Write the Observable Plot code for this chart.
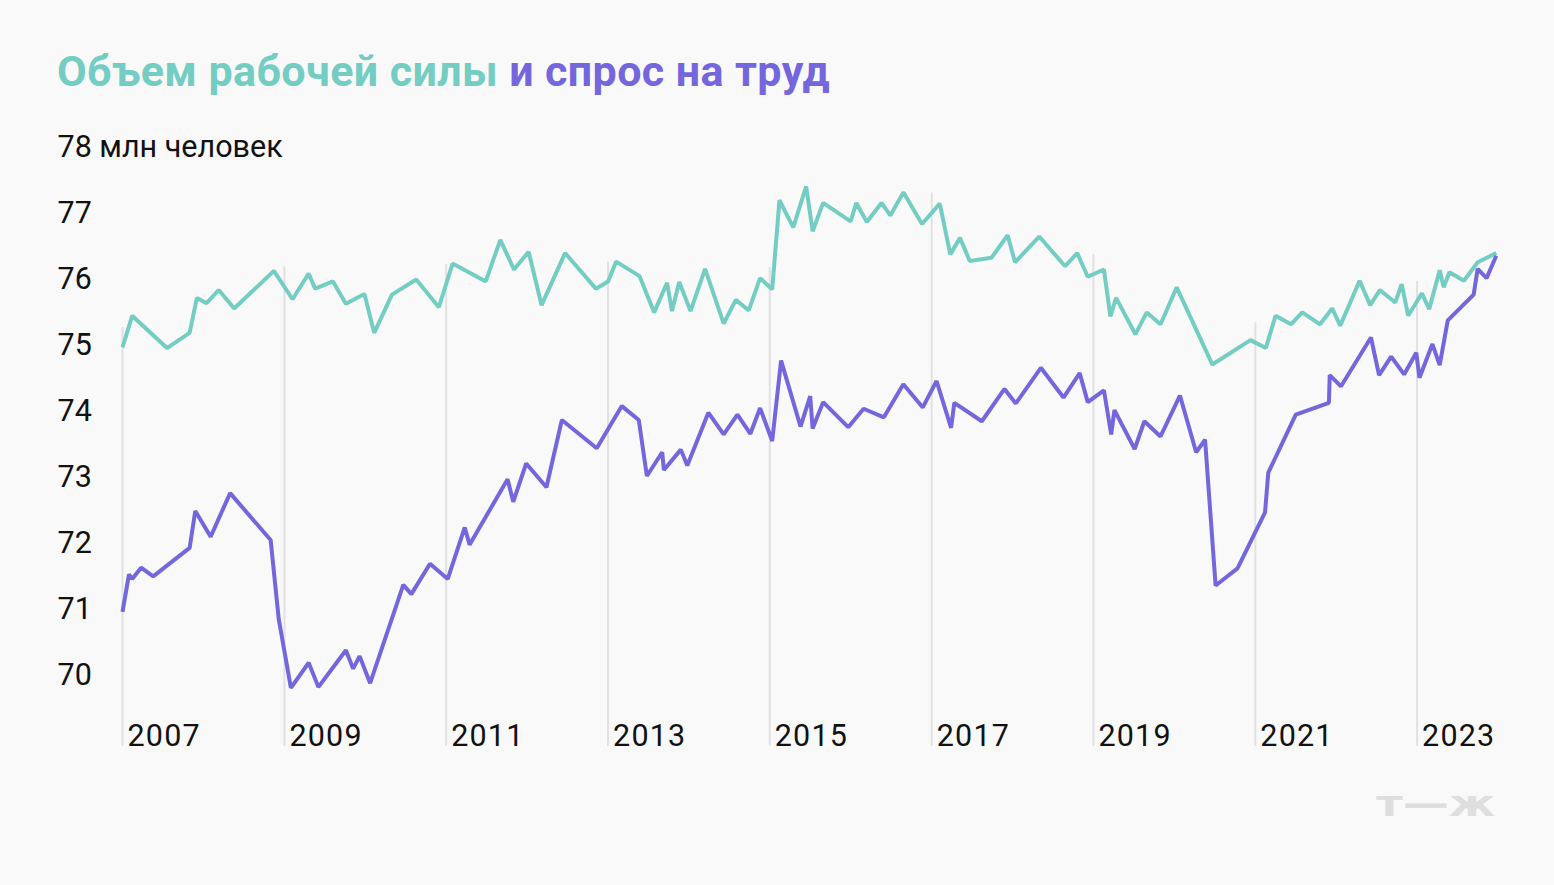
<!DOCTYPE html>
<html><head><meta charset="utf-8">
<script src="https://cdn.jsdelivr.net/npm/d3@7"></script>
<script src="https://cdn.jsdelivr.net/npm/@observablehq/plot@0.6"></script>
<style>
html,body{margin:0;padding:0;background:#f9f9f9;}
#wrap{position:relative;width:1554px;height:885px;overflow:hidden;background:#f9f9f9;font-family:Roboto,"Noto Sans",sans-serif;}
#title{position:absolute;left:57px;top:50px;font-size:43px;font-weight:700;line-height:1;white-space:nowrap;letter-spacing:0.4px;}
#chart{position:absolute;left:0;top:120px;}
#logo{position:absolute;left:1370px;top:784px;overflow:visible;}
</style></head>
<body><div id="wrap">
<div id="title"><span style="color:#74cdc3">Объем рабочей силы</span> <span style="color:#7466dc">и спрос на труд</span></div>
<div id="chart"></div>
<svg id="logo" width="140" height="44"><text x="6" y="32" textLength="119" lengthAdjust="spacingAndGlyphs" font-family="DejaVu Sans" font-weight="bold" font-size="36" fill="#dedede">т—ж</text></svg>
</div>
<script>
// Labour force (teal), decimal year and million people
const tealYear = [2007.00,2007.12,2007.55,2007.83,2007.92,2008.04,2008.19,2008.38,2008.87,2009.10,2009.30,2009.38,2009.60,2009.76,2009.99,2010.11,2010.33,2010.63,2010.91,2011.08,2011.49,2011.67,2011.84,2012.02,2012.18,2012.47,2012.85,2013.00,2013.10,2013.39,2013.57,2013.73,2013.79,2013.88,2014.02,2014.20,2014.43,2014.58,2014.74,2014.88,2015.03,2015.12,2015.29,2015.45,2015.53,2015.66,2016.00,2016.07,2016.20,2016.38,2016.49,2016.65,2016.88,2017.10,2017.23,2017.35,2017.47,2017.74,2017.94,2018.03,2018.33,2018.65,2018.80,2018.93,2019.13,2019.21,2019.28,2019.52,2019.66,2019.83,2020.03,2020.47,2020.94,2021.13,2021.25,2021.44,2021.58,2021.80,2021.95,2022.05,2022.29,2022.42,2022.54,2022.73,2022.81,2022.89,2023.06,2023.15,2023.28,2023.33,2023.40,2023.58,2023.75,2023.98];
const tealValue = [74.97,75.45,74.96,75.19,75.72,75.64,75.84,75.56,76.13,75.70,76.09,75.86,75.97,75.63,75.78,75.19,75.77,76.00,75.58,76.24,75.97,76.60,76.15,76.42,75.61,76.40,75.86,75.97,76.27,76.05,75.50,75.95,75.52,75.96,75.52,76.16,75.33,75.69,75.53,76.02,75.85,77.20,76.79,77.41,76.73,77.16,76.88,77.16,76.87,77.16,76.97,77.32,76.84,77.15,76.38,76.63,76.28,76.33,76.67,76.26,76.65,76.20,76.40,76.04,76.15,75.44,75.72,75.17,75.50,75.32,75.88,74.71,75.08,74.96,75.45,75.32,75.50,75.32,75.56,75.30,75.98,75.61,75.84,75.65,75.93,75.45,75.79,75.55,76.14,75.88,76.11,75.98,76.26,76.40];
// Labour demand (purple)
const purpleYear = [2007.00,2007.08,2007.12,2007.23,2007.38,2007.83,2007.90,2008.09,2008.33,2008.83,2008.93,2009.08,2009.30,2009.42,2009.76,2009.85,2009.93,2010.06,2010.47,2010.57,2010.80,2011.02,2011.23,2011.29,2011.76,2011.83,2011.99,2012.24,2012.43,2012.86,2013.17,2013.38,2013.48,2013.67,2013.69,2013.90,2013.98,2014.24,2014.43,2014.60,2014.76,2014.88,2015.03,2015.14,2015.38,2015.50,2015.53,2015.66,2015.97,2016.16,2016.41,2016.65,2016.89,2017.06,2017.24,2017.28,2017.62,2017.90,2018.04,2018.35,2018.63,2018.83,2018.93,2019.13,2019.22,2019.26,2019.51,2019.63,2019.83,2020.07,2020.27,2020.38,2020.51,2020.78,2021.12,2021.16,2021.50,2021.91,2021.92,2022.06,2022.43,2022.53,2022.68,2022.84,2022.99,2023.03,2023.19,2023.28,2023.38,2023.70,2023.75,2023.86,2023.98];
const purpleValue = [70.96,71.53,71.46,71.63,71.50,71.93,72.49,72.10,72.76,72.05,70.85,69.81,70.19,69.82,70.38,70.10,70.29,69.88,71.37,71.23,71.69,71.46,72.24,71.98,72.97,72.63,73.21,72.85,73.87,73.44,74.08,73.87,73.02,73.38,73.11,73.42,73.18,73.98,73.65,73.95,73.66,74.05,73.55,74.77,73.77,74.23,73.74,74.14,73.76,74.04,73.91,74.41,74.06,74.46,73.75,74.13,73.85,74.34,74.12,74.66,74.21,74.58,74.14,74.32,73.65,74.02,73.43,73.85,73.62,74.24,73.38,73.57,71.36,71.62,72.47,73.07,73.95,74.13,74.55,74.38,75.12,74.55,74.83,74.56,74.89,74.51,75.02,74.70,75.38,75.77,76.16,76.02,76.36];
const yTicks = [70, 71, 72, 73, 74, 75, 76, 77, 78];
const yUnit = "млн человек";
const xTickYears = [2007, 2009, 2011, 2013, 2015, 2017, 2019, 2021, 2023];

const tealColor = "#74cdc3";
const purpleColor = "#7466dc";

function toDate(y) {
  const yr = Math.floor(y);
  const a = Date.UTC(yr, 0, 1), b = Date.UTC(yr + 1, 0, 1);
  return new Date(a + (y - yr) * (b - a));
}
function interp(xs, ys, x) {
  for (let i = 1; i < xs.length; i++) {
    if (x <= xs[i]) {
      const t = (x - xs[i - 1]) / (xs[i] - xs[i - 1]);
      return ys[i - 1] + t * (ys[i] - ys[i - 1]);
    }
  }
  return ys[ys.length - 1];
}
const teal = tealYear.map((t, i) => ({date: toDate(t), value: tealValue[i]}));
const purple = purpleYear.map((t, i) => ({date: toDate(t), value: purpleValue[i]}));
const grid = xTickYears.map(y => ({date: toDate(y), top: Math.max(interp(tealYear, tealValue, y), tealValue[0]) + 0.3}));
const xTicks = xTickYears.map(toDate);

const yDomain = [68.92, 78];
const chart = Plot.plot({
  width: 1554, height: 660,
  marginLeft: 122, marginRight: 56.6, marginTop: 27, marginBottom: 34,
  style: {background: "transparent", fontFamily: "Roboto, 'Noto Sans', sans-serif", fontSize: "30px", color: "#111", overflow: "visible"},
  x: {type: "utc", domain: [toDate(2007), toDate(2024)], label: null},
  y: {domain: yDomain, label: null},
  marks: [
    Plot.ruleX(grid, {x: "date", y1: yDomain[0], y2: "top", stroke: "#e1e1e1", strokeWidth: 2}),
    Plot.axisY(yTicks, {tickSize: 0, tickPadding: 65, textAnchor: "start", fontSize: 30.5, label: null,
      tickFormat: d => d === 78 ? `${d} ${yUnit}` : String(d)}),
    Plot.axisX(xTicks, {tickSize: 0, tickPadding: 0, lineAnchor: "bottom", textAnchor: "start", dx: 5, dy: -1, fontSize: 30.5, label: null,
      tickFormat: d3.utcFormat("%Y")}),
    Plot.line(teal, {x: "date", y: "value", stroke: tealColor, strokeWidth: 4, strokeLinejoin: "miter", strokeLinecap: "butt"}),
    Plot.line(purple, {x: "date", y: "value", stroke: purpleColor, strokeWidth: 4, strokeLinejoin: "miter", strokeLinecap: "butt"})
  ]
});
chart.querySelectorAll('[aria-label="x-axis tick label"] text').forEach(t => t.setAttribute("letter-spacing", "1.2"));
document.getElementById("chart").appendChild(chart);
</script>
</body></html>
